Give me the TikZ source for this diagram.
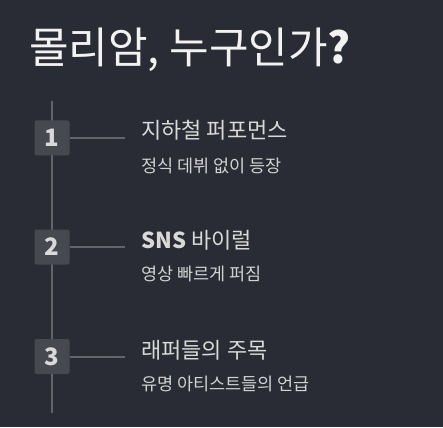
\documentclass[tikz,border=0pt]{standalone}
\usepackage{fontspec}
\setmainfont{Noto Sans CJK KR}
\definecolor{bg}{HTML}{292C34}
\definecolor{boxfill}{HTML}{464950}
\definecolor{linec}{HTML}{62656C}
\definecolor{titlec}{HTML}{F2F2F2}
\definecolor{itemc}{HTML}{D9D9D9}
\definecolor{subc}{HTML}{D2D2D2}
\begin{document}
\begin{tikzpicture}[x=1pt,y=-1pt,
  numbox/.style={fill=boxfill, rounded corners=2pt, minimum width=35pt, minimum height=35pt, inner sep=0pt, text=itemc, font=\fontsize{24}{24}\selectfont\bfseries},
  itemtitle/.style={anchor=west, inner sep=0pt, text=itemc, font=\fontsize{22}{22}\selectfont},
  itemsub/.style={anchor=west, inner sep=0pt, text=subc, font=\fontsize{17.5}{18}\selectfont},
  conn/.style={draw=linec, line width=2pt}]
\useasboundingbox[fill=bg] (0,0) rectangle (443,427);
\node[anchor=west, inner sep=0pt, text=titlec, font=\fontsize{43}{44}\selectfont] (title) at (29,50) {몰리암, 누구인가\textbf{?}};
\coordinate (top) at (52,101);
\coordinate (bot) at (52,413);
\draw[conn] (top) -- (bot);
\node[numbox] (b1) at (52,138) {1};
\node[numbox] (b2) at (52,247) {2};
\node[numbox] (b3) at (52,356.5) {3};
\coordinate (e1) at (125,138);
\coordinate (e2) at (125,247);
\coordinate (e3) at (125,356.5);
\draw[conn] (b1.east) -- (e1);
\draw[conn] (b2.east) -- (e2);
\draw[conn] (b3.east) -- (e3);
\node[itemtitle] (t1) at (141,130) {지하철 퍼포먼스};
\node[itemsub] (s1) at (141,166) {정식 데뷔 없이 등장};
\node[itemtitle] (t2) at (141,240.5) {\textbf{SNS} 바이럴};
\node[itemsub] (s2) at (141,274) {영상 빠르게 퍼짐};
\node[itemtitle] (t3) at (141,350) {래퍼들의 주목};
\node[itemsub] (s3) at (141,384) {유명 아티스트들의 언급};
\end{tikzpicture}
\end{document}
